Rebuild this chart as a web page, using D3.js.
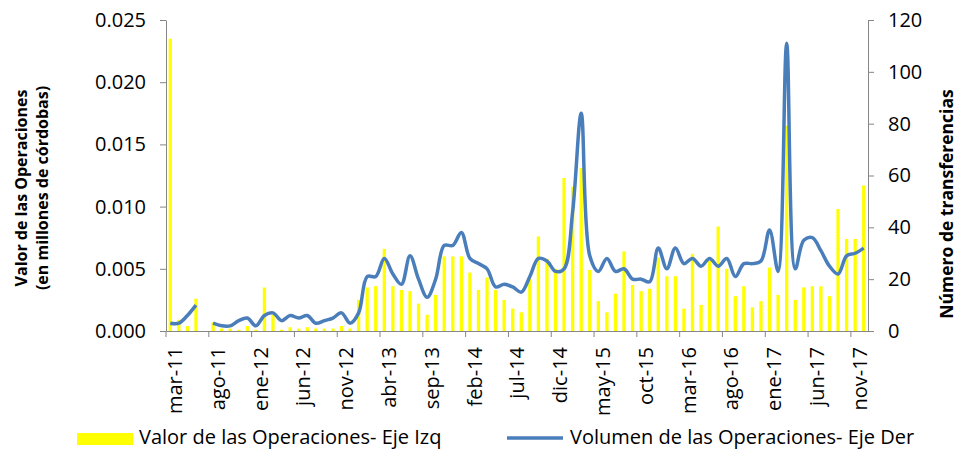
<!DOCTYPE html>
<html>
<head>
<meta charset="utf-8">
<script src="https://cdn.jsdelivr.net/npm/d3@7"></script>
<style>
  body { margin: 0; background: #fff; }
  svg { display: block; font-family: "Open Sans", sans-serif; }
</style>
</head>
<body>
<svg id="chart" width="959" height="450"></svg>
<script>
var monthNames = ['ene', 'feb', 'mar', 'abr', 'may', 'jun', 'jul', 'ago', 'sep', 'oct', 'nov', 'dic'];

// meses de mar-11 a dic-17
var months = [];
(function() {
  var y, m;
  for (y = 2011; y <= 2017; y++) {
    for (m = 0; m < 12; m++) {
      if (y === 2011 && m < 2) continue;
      months.push(monthNames[m] + '-' + String(y).slice(2));
    }
  }
})();

// valor de las operaciones (millones de córdobas) - eje izq
var valorOperaciones = [
  0.0235, 0.0009, 0.0004, 0.0026, null, 0.0007, 0.0002, 0.0002, 0.0001, 0.0004,
  0.0001, 0.0035, 0.0013, 0.0001, 0.0003, 0.0002, 0.0003, 0.0002, 0.0002, 0.0002,
  0.0004, 0.0002, 0.0025, 0.0035, 0.0036, 0.0066, 0.0036, 0.0033, 0.0032, 0.0022,
  0.0013, 0.0029, 0.0060, 0.0060, 0.0060, 0.0047, 0.0033, 0.0043, 0.0033, 0.0025,
  0.0018, 0.0015, 0.0042, 0.0076, 0.0058, 0.0050, 0.0123, 0.0116, 0.0131, 0.0049,
  0.0024, 0.0015, 0.0030, 0.0064, 0.0037, 0.0032, 0.0034, 0.0059, 0.0044, 0.0044,
  0.0018, 0.0062, 0.0021, 0.0059, 0.0084, 0.0050, 0.0028, 0.0036, 0.0019, 0.0024,
  0.0051, 0.0029, 0.0165, 0.0025, 0.0035, 0.0036, 0.0036, 0.0028, 0.0098, 0.0074,
  0.0074, 0.0117
];

// número de transferencias - eje der
var volumenOperaciones = [
  3, 3, 6, 10, null, 3, 2, 2, 4, 5,
  2, 6, 7, 4, 6, 5, 6, 3, 4, 5,
  7, 3, 7, 21, 21, 28, 22, 18, 29, 20,
  13, 20, 33, 33, 38, 28, 26, 24, 17, 18,
  17, 15, 21, 28, 27, 23, 24, 46, 84, 29,
  23, 28, 23, 24, 20, 20, 19, 32, 24, 32,
  26, 28, 25, 28, 25, 28, 21, 26, 26, 27,
  39, 23, 111, 24, 35, 36, 31, 25, 22, 29,
  30, 32
];

var leftTicks = [0, 0.005, 0.010, 0.015, 0.020, 0.025];
var rightTicks = [0, 20, 40, 60, 80, 100, 120];
var legendLabels = ['Valor de las Operaciones- Eje Izq', 'Volumen de las Operaciones- Eje Der'];

var svgEl, plotLeft, plotRight, plotTop, plotBottom, barW, x, yL, yR, axisColor, xAxis, lineGen, rows, step;
svgEl = d3.select('#chart');
plotLeft = 166;
plotRight = 868;
plotTop = 20;
plotBottom = 331;
axisColor = '#868686';

step = (plotRight - plotLeft) / months.length;
barW = 3.3;
x = d3.scaleBand().domain(months).range([plotLeft, plotRight]).paddingInner(1 - barW / step).paddingOuter((1 - barW / step) / 2);
yL = d3.scaleLinear().domain([0, 0.025]).range([plotBottom, plotTop]);
yR = d3.scaleLinear().domain([0, 120]).range([plotBottom, plotTop]);

rows = months.map(function(m, i) {
  return { mes: m, valor: valorOperaciones[i], volumen: volumenOperaciones[i] };
});

svgEl.append('g').attr('class', 'bars').selectAll('rect').data(rows.filter(function(d) {
  return d.valor != null;
})).enter().append('rect').attr('x', function(d) {
  return x(d.mes);
}).attr('width', x.bandwidth()).attr('y', function(d) {
  return yL(d.valor);
}).attr('height', function(d) {
  return plotBottom - yL(d.valor);
}).style('fill', '#ffff00');

lineGen = d3.line().defined(function(d) {
  return d.volumen != null;
}).x(function(d) {
  return x(d.mes) + x.bandwidth() / 2;
}).y(function(d) {
  return yR(d.volumen);
}).curve(d3.curveCatmullRom.alpha(0.5));

svgEl.append('path').datum(rows).attr('d', lineGen).style('fill', 'none').style('stroke', '#4a7ebb').style('stroke-width', 3.5).style('stroke-linejoin', 'round');

// eje x
xAxis = svgEl.append('g').attr('transform', 'translate(0,' + plotBottom + ')').call(d3.axisBottom(x).tickValues(months.filter(function(d, i) {
  return i % 5 === 0;
})).tickSize(6).tickSizeOuter(0));
xAxis.select('.domain').attr('stroke', axisColor);
xAxis.selectAll('.tick line').attr('stroke', axisColor).attr('x1', -step / 2).attr('x2', -step / 2);
xAxis.selectAll('.tick text').attr('transform', 'translate(' + (16 - step / 2) + ',16) rotate(-90)').attr('x', 0).attr('y', 0).attr('dy', 0).style('text-anchor', 'end').style('font-size', '20px').style('font-family', '"Open Sans", sans-serif').attr('fill', '#000');

var leftAxis = svgEl.append('g').attr('transform', 'translate(' + plotLeft + ',0)').call(d3.axisLeft(yL).tickValues(leftTicks).tickFormat(d3.format('.3f')).tickSize(6).tickPadding(14).tickSizeOuter(0));
var rightAxis = svgEl.append('g').attr('transform', 'translate(' + plotRight + ',0)').call(d3.axisRight(yR).tickValues(rightTicks).tickSize(6).tickPadding(14).tickSizeOuter(0));
[leftAxis, rightAxis].forEach(function(a) {
  a.select('.domain').attr('stroke', axisColor);
  a.selectAll('.tick line').attr('stroke', axisColor);
  a.selectAll('.tick text').style('font-size', '20px').style('font-family', '"Open Sans", sans-serif').attr('fill', '#000');
});

// títulos de ejes
var leftTitle = svgEl.append('text').attr('transform', 'translate(27,188) rotate(-90)').style('text-anchor', 'middle').style('font-size', '16px').style('font-weight', 'bold').attr('fill', '#000');
leftTitle.append('tspan').attr('x', 0).attr('dy', 0).text('Valor de las Operaciones');
leftTitle.append('tspan').attr('x', 0).attr('dy', 21).text('(en millones de córdobas)');

svgEl.append('text').attr('transform', 'translate(953,204) rotate(-90)').style('text-anchor', 'middle').style('font-size', '17.5px').style('font-weight', 'bold').attr('fill', '#000').text('Número de transferencias');

// leyenda
svgEl.append('rect').attr('x', 77).attr('y', 433).attr('width', 56).attr('height', 12).style('fill', '#ffff00');
svgEl.append('text').attr('x', 139).attr('y', 444).style('font-size', '20px').attr('fill', '#000').text(legendLabels[0]);
svgEl.append('line').attr('x1', 507).attr('x2', 563).attr('y1', 438).attr('y2', 438).style('stroke', '#4a7ebb').style('stroke-width', 3.5);
svgEl.append('text').attr('x', 570).attr('y', 444).style('font-size', '20px').attr('fill', '#000').text(legendLabels[1]);
</script>
</body>
</html>
